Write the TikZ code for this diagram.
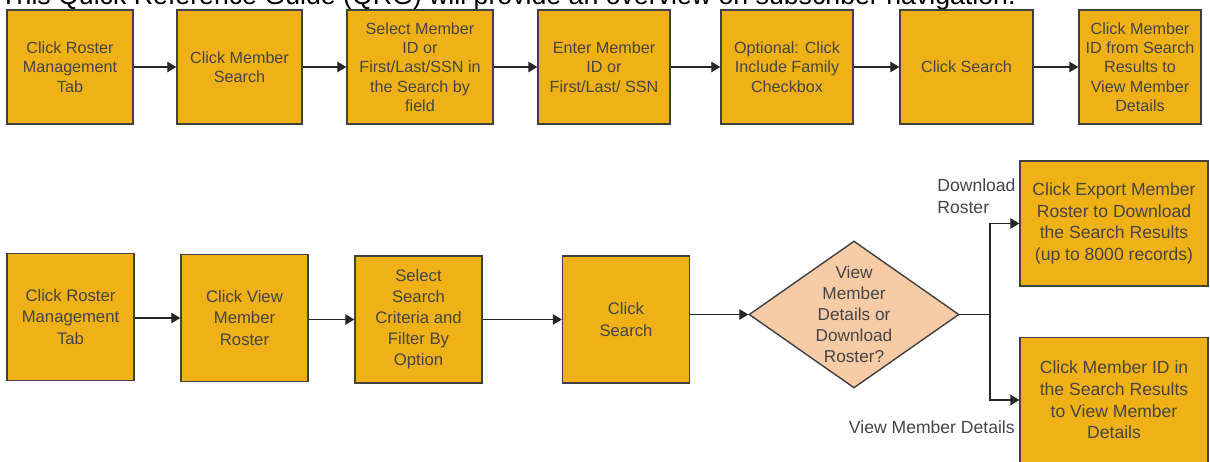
\documentclass[tikz,border=0pt]{standalone}
\usepackage{fontspec}
\setmainfont{Liberation Sans}
\usetikzlibrary{shapes.geometric,arrows.meta}

\definecolor{boxgold}{HTML}{EFB115}
\definecolor{peach}{HTML}{F8CBA7}
\definecolor{edgegray}{HTML}{404040}
\definecolor{txtgray}{HTML}{454545}

\begin{document}
\begin{tikzpicture}[x=0.02cm, y=-0.02cm,
  stepbox/.style={draw=edgegray, line width=0.8pt, fill=boxgold, text=txtgray, align=center, inner sep=1pt, minimum height=2.28cm, font=\fontsize{9.2}{11}\selectfont},
  lowbox/.style={stepbox, minimum width=2.54cm, minimum height=2.54cm, font=\fontsize{9.5}{12}\selectfont},
  sidebox/.style={stepbox, minimum width=3.76cm, minimum height=2.5cm, font=\fontsize{10}{12.3}\selectfont},
  choice/.style={diamond, draw=edgegray, line width=0.8pt, fill=peach, inner sep=0pt, minimum width=4.2cm, minimum height=2.94cm},
  branchtext/.style={text=txtgray, inner sep=0pt, font=\fontsize{10}{12.5}\selectfont},
  flow/.style={-{Triangle[length=0.18cm,width=0.21cm]}, line width=0.6pt, black!85}]
\useasboundingbox (0,0) rectangle (1210,461);
\clip (0,0) rectangle (1210,461);
\node[anchor=base west, inner sep=0pt, font=\fontsize{15.2}{17}\selectfont] (intro) at (0,4) {This Quick Reference Guide (QRG) will provide an overview on subscriber navigation.};
% search path
\node[stepbox, minimum width=2.52cm] (tabA) at (70,67) {Click Roster\\Management\\Tab};
\node[stepbox, minimum width=2.5cm] (memberSearch) at (239.5,67) {Click Member\\Search};
\node[stepbox, minimum width=2.92cm] (selectField) at (420,67) {Select Member\\ID or\\First/Last/SSN in\\the Search by\\field};
\node[stepbox, minimum width=2.64cm] (enterId) at (604,67) {Enter Member\\ID or\\First/Last/ SSN};
\node[stepbox, minimum width=2.64cm] (family) at (787,67) {Optional: Click\\Include Family\\Checkbox};
\node[stepbox, minimum width=2.66cm] (searchA) at (966.5,67) {Click Search};
\node[stepbox, minimum width=2.44cm] (resultId) at (1140,67) {Click Member\\ID from Search\\Results to\\View Member\\Details};
% roster path
\node[lowbox] (tabB) at (70.5,317) {Click Roster\\Management\\Tab};
\node[lowbox] (viewRoster) at (244.5,318) {Click View\\Member\\Roster};
\node[lowbox] (criteria) at (418.5,319.5) {Select\\Search\\Criteria and\\Filter By\\Option};
\node[lowbox] (searchB) at (626,319.5) {Click\\Search};
\node[choice, label={[align=center, text=txtgray, font=\fontsize{9.8}{12}\selectfont]center:View\\Member\\Details or\\Download\\Roster?}] (pick) at (854,314.5) {};
\coordinate (split) at (990,314.5);
\node[sidebox] (export) at (1114,223.5) {Click Export Member\\Roster to Download\\the Search Results\\(up to 8000 records)};
\node[sidebox] (details) at (1114,400) {Click Member ID in\\the Search Results\\to View Member\\Details};
\node[branchtext, anchor=west, align=left] (dlLabel) at (937,196) {Download\\Roster};
\node[branchtext, anchor=east] (viewLabel) at (1015,427) {View Member Details};
\draw[flow] (tabA) -- (memberSearch);
\draw[flow] (memberSearch) -- (selectField);
\draw[flow] (selectField) -- (enterId);
\draw[flow] (enterId) -- (family);
\draw[flow] (family) -- (searchA);
\draw[flow] (searchA) -- (resultId);
\draw[flow] (tabB.east |- viewRoster.west) -- (viewRoster.west);
\draw[flow] (viewRoster.east |- criteria.west) -- (criteria.west);
\draw[flow] (criteria) -- (searchB);
\draw[flow] (searchB.east |- pick.west) -- (pick.west);
\draw[line width=0.6pt, black!85] (pick.east) -- (split);
\draw[flow] (split) |- (export.west);
\draw[flow] (split) |- (details.west);
\end{tikzpicture}
\end{document}
